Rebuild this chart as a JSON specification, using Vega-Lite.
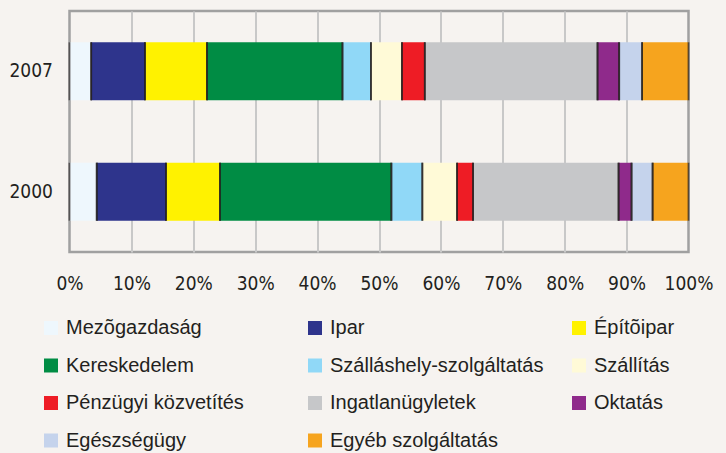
{
  "$schema": "https://vega.github.io/schema/vega-lite/v6.json",
  "width": 619,
  "height": 241,
  "autosize": {"type": "none"},
  "padding": {"left": 69.5, "top": 11, "right": 37.5, "bottom": 201},
  "background": "#f6f3f0",
  "config": {
    "view": {"stroke": "#a0a0a0", "strokeWidth": 2.5, "fill": "#f6f3f0"},
    "font": "Liberation Sans"
  },
  "data": {
    "values": [
      {"year": "2007", "cat": "Mezõgazdaság", "i": 1, "v": 3.5},
      {"year": "2007", "cat": "Ipar", "i": 2, "v": 8.7},
      {"year": "2007", "cat": "Építõipar", "i": 3, "v": 10.0},
      {"year": "2007", "cat": "Kereskedelem", "i": 4, "v": 21.9},
      {"year": "2007", "cat": "Szálláshely-szolgáltatás", "i": 5, "v": 4.6},
      {"year": "2007", "cat": "Szállítás", "i": 6, "v": 5.0},
      {"year": "2007", "cat": "Pénzügyi közvetítés", "i": 7, "v": 3.7},
      {"year": "2007", "cat": "Ingatlanügyletek", "i": 8, "v": 27.9},
      {"year": "2007", "cat": "Oktatás", "i": 9, "v": 3.5},
      {"year": "2007", "cat": "Egészségügy", "i": 10, "v": 3.7},
      {"year": "2007", "cat": "Egyéb szolgáltatás", "i": 11, "v": 7.5},
      {"year": "2000", "cat": "Mezõgazdaság", "i": 1, "v": 4.4},
      {"year": "2000", "cat": "Ipar", "i": 2, "v": 11.2},
      {"year": "2000", "cat": "Építõipar", "i": 3, "v": 8.7},
      {"year": "2000", "cat": "Kereskedelem", "i": 4, "v": 27.7},
      {"year": "2000", "cat": "Szálláshely-szolgáltatás", "i": 5, "v": 5.0},
      {"year": "2000", "cat": "Szállítás", "i": 6, "v": 5.6},
      {"year": "2000", "cat": "Pénzügyi közvetítés", "i": 7, "v": 2.6},
      {"year": "2000", "cat": "Ingatlanügyletek", "i": 8, "v": 23.5},
      {"year": "2000", "cat": "Oktatás", "i": 9, "v": 2.1},
      {"year": "2000", "cat": "Egészségügy", "i": 10, "v": 3.4},
      {"year": "2000", "cat": "Egyéb szolgáltatás", "i": 11, "v": 5.8}
    ]
  },
  "transform": [
    {"stack": "v", "groupby": ["year"], "sort": [{"field": "i", "order": "ascending"}], "as": ["v0", "v1"]}
  ],
  "encoding": {
    "y": {
      "field": "year", "type": "nominal",
      "scale": {"domain": ["2007", "2000"], "paddingInner": 0.519, "paddingOuter": 0.26},
      "axis": {
        "title": null, "domain": false, "ticks": false, "labelPadding": 17,
        "labelFont": "DejaVu Sans Condensed, Liberation Sans", "labelFontSize": 19, "labelColor": "#231f20"
      }
    }
  },
  "layer": [
    {
      "mark": {"type": "bar"},
      "encoding": {
        "x": {
          "field": "v0", "type": "quantitative",
          "scale": {"domain": [0, 100], "nice": false},
          "axis": {
            "title": null, "domain": false, "ticks": false,
            "values": [0, 10, 20, 30, 40, 50, 60, 70, 80, 90, 100],
            "labelExpr": "datum.value + '%'",
            "labelPadding": 22, "labelFont": "DejaVu Sans Condensed, Liberation Sans", "labelFontSize": 19,
            "labelColor": "#231f20", "labelFlush": false,
            "grid": true, "gridColor": "#c8c8c8", "gridWidth": 2,
            "gridOpacity": {"condition": {"test": "datum.value == 0 || datum.value == 100", "value": 0}, "value": 1}
          }
        },
        "x2": {"field": "v1"},
        "color": {
          "field": "cat", "type": "nominal",
          "scale": {
            "domain": ["Mezõgazdaság", "Ipar", "Építõipar", "Kereskedelem", "Szálláshely-szolgáltatás", "Szállítás", "Pénzügyi közvetítés", "Ingatlanügyletek", "Oktatás", "Egészségügy", "Egyéb szolgáltatás"],
            "range": ["#eef7fd", "#2e348c", "#fff200", "#008c44", "#90d8f7", "#fffad7", "#ee1c25", "#c6c7c9", "#8f2a8b", "#c5d3ec", "#f6a41e"]
          },
          "legend": {
            "title": null, "orient": "none", "legendX": -28.5, "legendY": 307,
            "direction": "horizontal",
            "columns": 3, "gridAlign": "all", "columnPadding": 25, "rowPadding": 17.5,
            "padding": 0, "symbolType": "square", "symbolSize": 196, "symbolStrokeWidth": 0,
            "labelFontSize": 20, "labelColor": "#231f20", "labelOffset": 5, "labelLimit": 400
          }
        }
      }
    },
    {
      "mark": {"type": "tick", "orient": "vertical", "size": 58, "thickness": 1.8, "color": "#231f20"},
      "encoding": {"x": {"field": "v1", "type": "quantitative"}}
    },
    {
      "mark": {"type": "tick", "orient": "vertical", "size": 58, "thickness": 1.8, "color": "#231f20"},
      "encoding": {"x": {"field": "v0", "type": "quantitative"}}
    }
  ]
}
